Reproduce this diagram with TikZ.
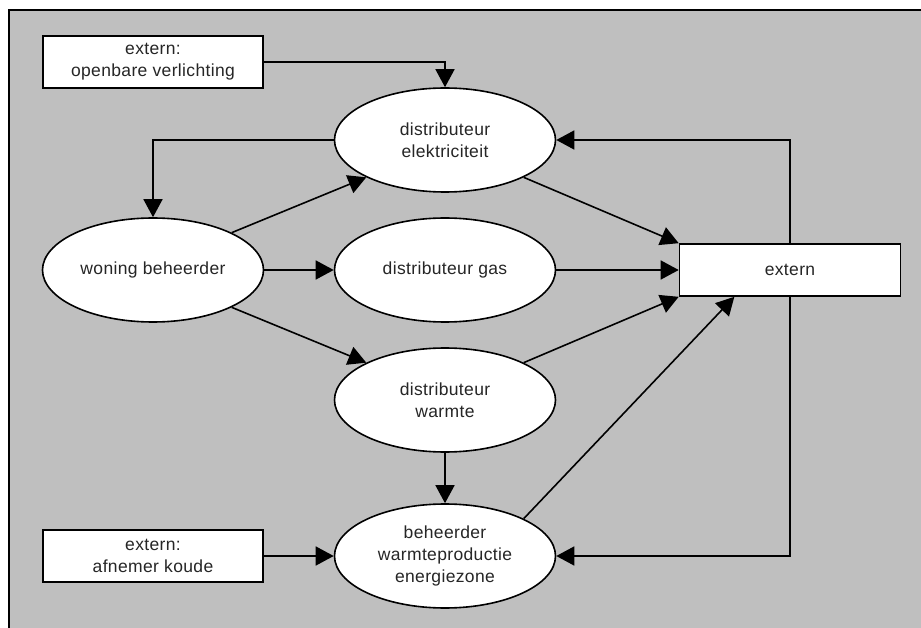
\documentclass[tikz,border=0pt]{standalone}
\usepackage{fontspec}
\setmainfont{Liberation Sans}[LetterSpace=2]
\usetikzlibrary{shapes.geometric,arrows.meta,calc}
\begin{document}
\begin{tikzpicture}[x=1pt,y=-1pt,
  every node/.style={font=\fontsize{17.5}{22}\selectfont, text=black!85, align=center},
  ell/.style={ellipse, draw, fill=white, line width=1.6pt, minimum width=221pt, minimum height=104pt, inner sep=0pt},
  boxn/.style={rectangle, draw, fill=white, line width=1.6pt, minimum width=220pt, minimum height=52pt, inner sep=0pt},
  conn/.style={line width=1.6pt, -{Triangle[length=18pt, width=19pt]}},
  plain/.style={line width=1.6pt}]
\useasboundingbox (0,0) rectangle (921,628);
\fill[white] (0,0) rectangle (921,628);
\fill[black!25] (9,10) rectangle (921,628);
\draw[line width=1.8pt] (9,628) -- (9,10) -- (921,10);

\node[boxn] (open) at (153,62) {extern:\\openbare verlichting};
\node[ell] (elek) at (445,140) {distributeur\\elektriciteit};
\node[ell] (woning) at (153,270) {woning beheerder};
\node[ell] (gas) at (445,270) {distributeur gas};
\node[ell] (warmte) at (445,400) {distributeur\\warmte};
\node[ell] (beh) at (445,556) {beheerder\\warmteproductie\\energiezone};
\node[boxn] (koude) at (153,556) {extern:\\afnemer koude};
\node[boxn, minimum width=221pt] (extern) at (790,270) {extern};
\coordinate (extq) at ($(extern.south west)!0.25!(extern.south east)$);

\draw[conn] (open.east) -| (elek.north);
\draw[conn] (elek.west) -| (woning.north);
\draw[conn] (woning.north east) -- (elek.south west);
\draw[conn] (woning.east) -- (gas.west);
\draw[conn] (woning.south east) -- (warmte.north west);
\draw[conn] (elek.south east) -- (extern.north west);
\draw[conn] (gas.east) -- (extern.west);
\draw[conn] (warmte.north east) -- (extern.south west);
\draw[conn] (warmte.south) -- (beh.north);
\draw[conn] (beh.north east) -- (extq);
\draw[conn] (extern.north) |- (elek.east);
\draw[conn] (extern.south) |- (beh.east);
\draw[conn] (koude.east) -- (beh.west);
\end{tikzpicture}
\end{document}
